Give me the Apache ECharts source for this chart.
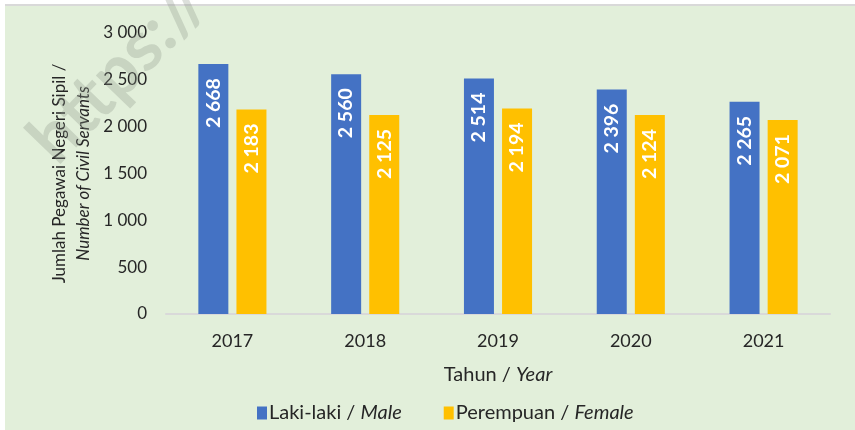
<!DOCTYPE html>
<html>
<head>
<meta charset="utf-8">
<script src="https://cdn.jsdelivr.net/npm/echarts@6/dist/echarts.min.js"></script>
<style>
html,body{margin:0;padding:0;background:#fff;}
#chart{width:855px;height:430px;}
</style>
</head>
<body>
<div id="chart"></div>
<script>
var years = ['2017', '2018', '2019', '2020', '2021'];
var male = [2668, 2560, 2514, 2396, 2265];
var female = [2183, 2125, 2194, 2124, 2071];
var yTicks = [0, 500, 1000, 1500, 2000, 2500, 3000];

var FONT = 'Lato, "Open Sans", sans-serif';
var TXT = '#262626';
function fmt(v) {
  return String(v).replace(/\B(?=(\d{3})+(?!\d))/g, ' ');
}
var chart = echarts.init(document.getElementById('chart'));
var labelCfg = {
  show: true,
  position: 'insideTop',
  rotate: 90,
  align: 'right',
  verticalAlign: 'middle',
  distance: 14,
  color: '#fff',
  fontFamily: FONT,
  fontWeight: 'bold',
  fontSize: 19.5,
  formatter: function (p) { return fmt(p.value); }
};
chart.setOption({
  backgroundColor: '#fff',
  animation: false,
  graphic: [
    { type: 'rect', z: -10, shape: { x: 5, y: 5, width: 850, height: 425 }, style: { fill: '#E2EFDA' } },
    { type: 'line', z: -9, shape: { x1: 5, y1: 5, x2: 855, y2: 5 }, style: { stroke: '#D9D9D9', lineWidth: 2 } },
    { type: 'text', z: 100, x: 16, y: 127, rotation: 46 * Math.PI / 180,
      style: { text: 'https://', font: 'bold 70px ' + FONT, fill: 'rgba(140,150,135,0.3)', textBaseline: 'alphabetic' } }
  ],
  grid: { left: 166, right: 25, top: 33, bottom: 116 },
  legend: {
    top: 398,
    left: 252,
    itemWidth: 10,
    itemHeight: 13,
    itemGap: 42,
    icon: 'rect',
    textStyle: { fontFamily: FONT, fontSize: 20, color: TXT, padding: [0, 0, 0, -3],
      rich: { i: { fontStyle: 'italic', fontFamily: FONT, fontSize: 20, color: TXT } } },
    data: ['Laki-laki', 'Perempuan'],
    formatter: function (n) {
      return n === 'Laki-laki' ? 'Laki-laki / {i|Male}' : 'Perempuan / {i|Female}';
    }
  },
  xAxis: {
    type: 'category',
    data: years,
    name: 'Tahun / {i|Year}',
    nameLocation: 'middle',
    nameGap: 51,
    nameTextStyle: { fontFamily: FONT, fontSize: 20, color: TXT,
      rich: { i: { fontStyle: 'italic', fontFamily: FONT, fontSize: 20, color: TXT } } },
    axisLine: { lineStyle: { color: '#D9D9D9', width: 2 } },
    axisTick: { show: false },
    axisLabel: { fontFamily: FONT, fontSize: 18, color: TXT, margin: 18 }
  },
  yAxis: {
    type: 'value',
    min: yTicks[0],
    max: yTicks[yTicks.length - 1],
    interval: yTicks[1] - yTicks[0],
    name: '{a|Jumlah Pegawai Negeri Sipil /}\n{b|Number of Civil Servants}',
    nameLocation: 'middle',
    nameRotate: 90,
    nameGap: 70,
    nameTextStyle: {
      rich: {
        a: { fontFamily: FONT, fontSize: 17, color: TXT, lineHeight: 24, align: 'center' },
        b: { fontFamily: FONT, fontSize: 17, fontStyle: 'italic', color: TXT, lineHeight: 24, align: 'center' }
      }
    },
    splitLine: { show: false },
    axisLine: { show: false },
    axisTick: { show: false },
    axisLabel: { fontFamily: FONT, fontSize: 17, color: TXT, margin: 19, formatter: fmt }
  },
  series: [
    { name: 'Laki-laki', type: 'bar', data: male, barWidth: 30, barGap: '27%',
      itemStyle: { color: '#4472C4' }, label: labelCfg },
    { name: 'Perempuan', type: 'bar', data: female, barWidth: 30,
      itemStyle: { color: '#FFC000' }, label: labelCfg }
  ]
});
</script>
</body>
</html>
